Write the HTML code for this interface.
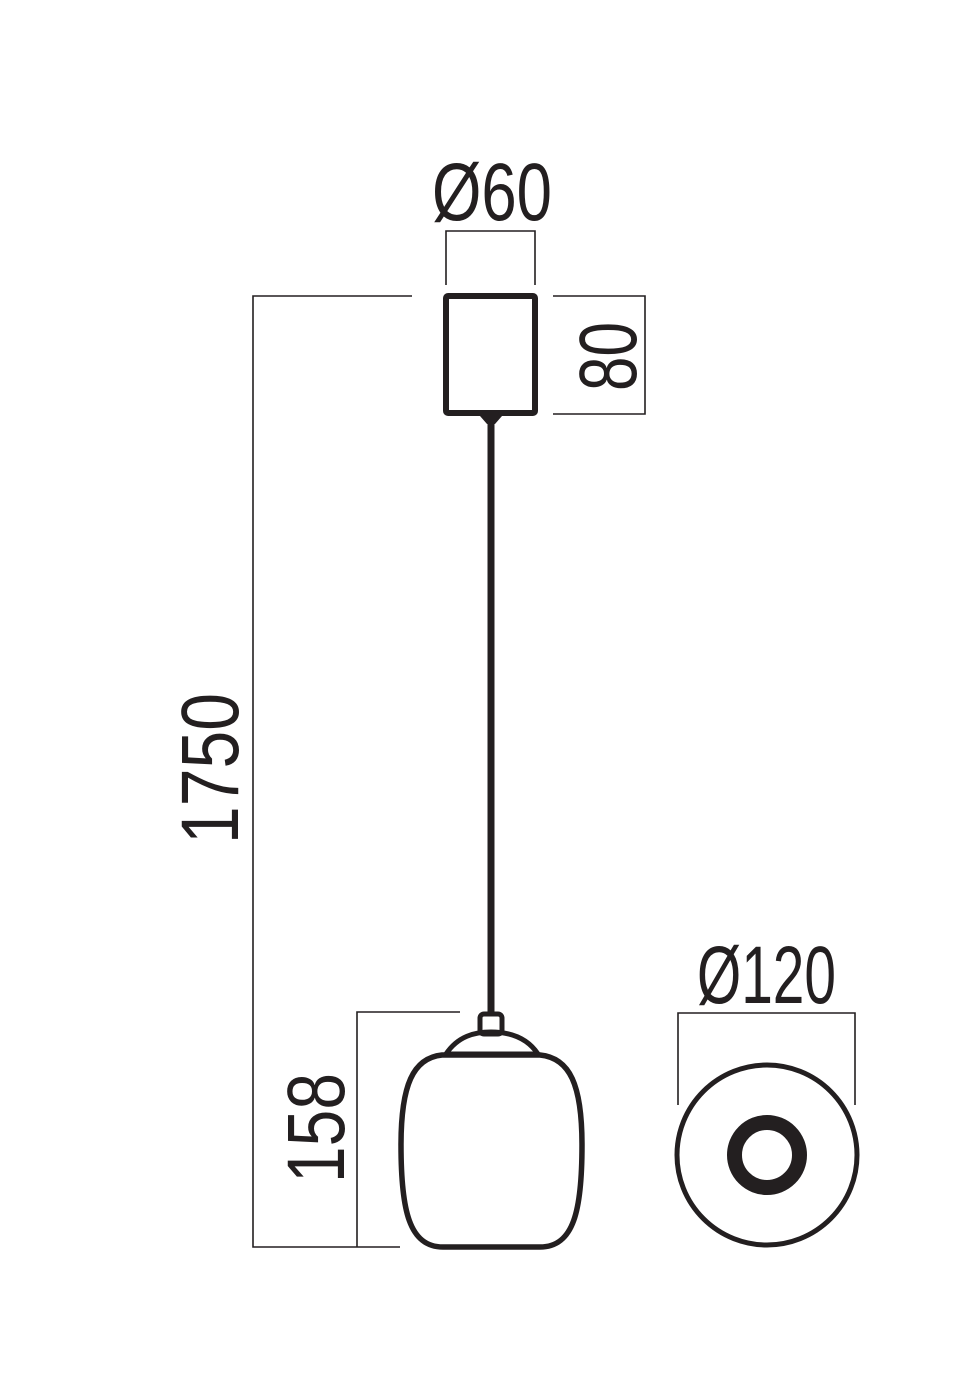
<!DOCTYPE html>
<html><head><meta charset="utf-8"><style>html,body{margin:0;padding:0;background:#fff}svg{display:block}</style></head>
<body>
<svg width="980" height="1400" viewBox="0 0 980 1400" xmlns="http://www.w3.org/2000/svg">
<g fill="none" stroke="#231f20">
  <g stroke-width="1.6">
    <polyline points="446,285 446,231 535,231 535,285"/>
    <polyline points="553,296 645,296 645,414 553,414"/>
    <polyline points="412,296 253,296 253,1247 400,1247"/>
    <polyline points="460,1012 357,1012 357,1247"/>
    <polyline points="678,1105 678,1013 855,1013 855,1105"/>
  </g>
  <rect x="446" y="296" width="89" height="117" rx="2" stroke-width="6"/>
  <path d="M480 416 L502 416 L495 424 L487 424 Z" fill="#231f20" stroke="none"/>
  <line x1="491" y1="416" x2="491" y2="1014" stroke-width="7"/>
  <rect x="480" y="1014" width="22" height="20" rx="4" stroke-width="5"/>
  <path d="M446 1054 C458 1036 475 1032 491 1032 C507 1032 526 1036 538 1054 Z" stroke-width="5"/>
  <path d="M442 1055 L540 1055 C570 1058 582 1085 582 1145 C582 1210 574 1247 540 1247 L443 1247 C409 1247 401 1210 401 1145 C401 1085 413 1058 442 1055 Z" stroke-width="5.5"/>
  <circle cx="767" cy="1155" r="90" stroke-width="5"/>
  <circle cx="767" cy="1155" r="32.5" stroke-width="15"/>
</g>
<g fill="#231f20" font-family="Liberation Sans, sans-serif" font-size="82">
  <text x="432" y="220" textLength="120" lengthAdjust="spacingAndGlyphs">Ø60</text>
  <text x="697" y="1003" textLength="139" lengthAdjust="spacingAndGlyphs">Ø120</text>
  <text transform="translate(636,391) rotate(-90)" textLength="69" lengthAdjust="spacingAndGlyphs">80</text>
  <text transform="translate(238,844) rotate(-90)" textLength="151" lengthAdjust="spacingAndGlyphs">1750</text>
  <text transform="translate(344,1183) rotate(-90)" textLength="110" lengthAdjust="spacingAndGlyphs">158</text>
</g>
</svg>
</body></html>
